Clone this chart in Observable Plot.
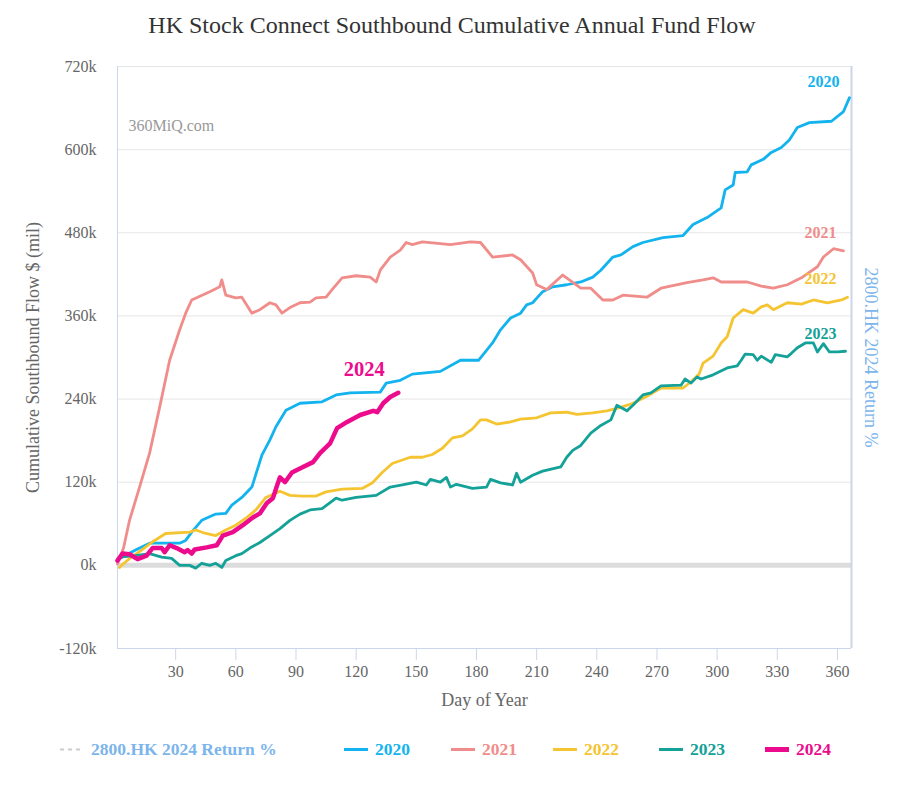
<!DOCTYPE html>
<html>
<head>
<meta charset="utf-8">
<script src="https://cdn.jsdelivr.net/npm/d3@7"></script>
<script src="https://cdn.jsdelivr.net/npm/@observablehq/plot@0.6"></script>
<style>
  body { margin: 0; background: #fff; font-family: "Liberation Serif", serif; }
  #title { height: 50px; line-height: 50px; text-align: center; font-size: 24px; color: #333; width: 904px; }
  #legend { position: relative; height: 75px; width: 904px; }
  .item { position: absolute; top: 34px; transform: translateY(-50%); display: flex; align-items: center; gap: 7px; font-weight: bold; font-size: 17.5px; white-space: nowrap; }
  svg { display: block; }
</style>
</head>
<body>
<div id="title">HK Stock Connect Southbound Cumulative Annual Fund Flow</div>
<div id="chart"></div>
<div id="legend"></div>
<script>
// ---- data (day of year, cumulative flow in k) ----
const years = ["2020", "2021", "2022", "2023", "2024"];
const colors = ["#12b3ee", "#f08d8a", "#f5c431", "#14a198", "#ec0b8c"];
const xTicks = [30, 60, 90, 120, 150, 180, 210, 240, 270, 300, 330, 360];
const yTicks = [-120, 0, 120, 240, 360, 480, 600, 720];
const returnLabel = "2800.HK 2024 Return %";

const flow2020 = [[1,4],[2,10],[10,22],[17,32],[32,32],[35,36],[38,48],[43,65],[50,74],[55,75],[58,87],[63,98],[68,113],[73,159],[77,181],[80,200],[85,224],[92,234],[103,236],[110,246],[117,249],[132,250],[135,263],[142,267],[148,276],[162,280],[172,296],[181,296],[188,321],[192,340],[197,357],[202,364],[205,376],[208,379],[213,395],[218,402],[225,405],[232,409],[238,416],[242,426],[248,445],[252,448],[258,460],[263,466],[273,473],[283,476],[288,492],[295,502],[302,516],[304,542],[308,549],[309,567],[315,568],[317,578],[323,586],[327,596],[332,603],[336,614],[340,632],[346,639],[357,641],[363,655],[366,675]];

const flow2021 = [[1,2],[4,25],[7,65],[12,113],[17,162],[22,228],[27,296],[32,340],[35,364],[38,383],[47,395],[52,402],[53,412],[55,390],[60,386],[63,387],[68,364],[72,369],[77,379],[80,376],[83,364],[87,372],[92,379],[97,380],[100,386],[105,387],[108,398],[113,415],[120,418],[127,416],[130,409],[132,426],[137,445],[142,455],[145,466],[148,463],[153,467],[167,463],[177,467],[182,466],[188,445],[198,448],[202,441],[208,422],[210,405],[215,398],[223,419],[232,400],[237,400],[243,383],[248,383],[253,390],[265,387],[272,400],[285,408],[293,412],[298,415],[302,409],[315,409],[322,403],[328,400],[335,405],[342,415],[350,431],[353,445],[358,457],[363,454]];

const flow2022 = [[2,-3],[3,0],[8,12],[13,22],[18,33],[25,46],[37,48],[40,51],[45,46],[50,43],[55,51],[60,58],[65,68],[70,80],[75,98],[82,107],[87,101],[93,100],[100,100],[105,106],[113,110],[123,111],[128,119],[133,134],[138,147],[147,156],[153,156],[158,160],[163,169],[168,184],[173,187],[178,197],[182,210],[185,210],[190,204],[197,207],[202,211],[210,213],[217,220],[225,221],[230,218],[238,220],[245,223],[252,228],[258,234],[265,244],[272,256],[283,256],[287,265],[291,276],[293,292],[298,302],[302,321],[305,330],[308,357],[313,369],[318,364],[322,373],[325,376],[328,369],[335,379],[342,377],[348,383],[355,379],[362,383],[365,387]];

const flow2023 = [[1,8],[2,12],[10,14],[17,17],[23,12],[28,10],[32,0],[37,0],[40,-4],[43,3],[47,0],[50,3],[53,-3],[55,7],[60,14],[63,17],[67,25],[72,33],[77,43],[82,53],[87,65],[92,74],[97,80],[103,82],[110,97],[113,94],[120,98],[130,101],[137,113],[143,116],[150,120],[155,116],[157,124],[162,120],[165,127],[167,113],[170,117],[178,111],[185,113],[187,124],[192,119],[198,116],[200,133],[202,120],[208,130],[213,136],[222,142],[225,156],[228,166],[232,173],[237,191],[242,202],[247,210],[250,231],[255,223],[258,231],[263,246],[267,249],[272,259],[282,260],[284,269],[287,263],[290,272],[292,269],[298,275],[305,285],[310,288],[312,296],[314,305],[318,304],[320,296],[322,302],[327,293],[329,304],[335,301],[337,306],[340,314],[344,321],[348,321],[350,308],[353,320],[356,308],[360,308],[364,309]];

const flow2024 = [[1,7],[3.5,17],[7,16],[11,9],[15.5,14],[18.5,25],[23,25],[24.5,19],[27,29],[30.5,25],[34.5,19],[36,22],[38,17],[39.5,23],[45.5,26],[50.5,29],[53.5,43],[58.5,48],[63.5,58],[68.5,69],[72,75],[75.5,90],[78.5,97],[81,119],[82,127],[84.5,120],[88,134],[93.5,142],[98.5,149],[102,162],[107,176],[110.5,198],[115.5,207],[122,217],[128.5,223],[130.5,221],[133.5,234],[137,243],[141,249]];

const flows = [flow2020, flow2021, flow2022, flow2023, flow2024];
const rows = years.flatMap((yr, i) => flows[i].map(([day, value]) => ({year: yr, day, value})));
const lastPts = years.map((yr, i) => { const p = flows[i][flows[i].length - 1]; return {year: yr, day: p[0], value: p[1]}; });

// label offsets (px) relative to each series end
const labelOffsets = {"2020": [-26, -16], "2021": [-23, -18], "2022": [-27, -18], "2023": [-25, -17], "2024": [-34, -23]};

const lineMarks = years.map(yr => Plot.line(rows.filter(r => r.year === yr), {
  x: "day", y: "value", stroke: "year", strokeWidth: yr === "2024" ? 4.5 : 2.8
}));
const labelMarks = years.map(yr => Plot.text(lastPts.filter(p => p.year === yr), {
  x: "day", y: "value", text: "year", fill: "year",
  dx: labelOffsets[yr][0], dy: labelOffsets[yr][1],
  fontWeight: "bold", fontSize: yr === "2024" ? 20.5 : 16
}));

const chart = Plot.plot({
  width: 904, height: 665,
  marginLeft: 117, marginRight: 53, marginTop: 16, marginBottom: 67,
  x: {domain: [1, 367]},
  y: {domain: [-120, 720]},
  color: {domain: years, range: colors},
  style: {fontFamily: "'Liberation Serif', serif", fontSize: "16px", color: "#666", background: "#fff", overflow: "visible"},
  marks: [
    Plot.gridY(yTicks, {stroke: "#e6e6e6", strokeOpacity: 1}),
    Plot.ruleY([0], {stroke: "#dcdcdc", strokeWidth: 5}),
    Plot.ruleX([1], {stroke: "#ccd6eb"}),
    Plot.ruleX([367], {stroke: "#ccd6eb", strokeWidth: 2}),
    Plot.ruleY([-120], {stroke: "#ccd6eb"}),
    Plot.axisY(yTicks, {tickSize: 0, tickPadding: 21, tickFormat: d => d + "k", label: null, fontSize: 16, fill: "#666"}),
    Plot.axisX(xTicks, {tickSize: 12, tickPadding: 5, stroke: "#ccd6eb", fill: "#666", label: null, fontSize: 16}),
    Plot.text(["Cumulative Southbound Flow $ (mil)"], {text: d => d, frameAnchor: "left", textAnchor: "middle", lineAnchor: "middle", rotate: -90, dx: -84, fill: "#666", fontSize: 18}),
    Plot.text(["Day of Year"], {text: d => d, frameAnchor: "bottom", textAnchor: "middle", lineAnchor: "middle", dy: 52, fill: "#666", fontSize: 18}),
    Plot.text([returnLabel], {text: d => d, frameAnchor: "right", textAnchor: "middle", lineAnchor: "middle", rotate: 90, dx: 19, fill: "#7cb5ec", fontSize: 18}),
    Plot.text(["360MiQ.com"], {text: d => d, frameAnchor: "top-left", textAnchor: "start", lineAnchor: "middle", dx: 11, dy: 59, fill: "#999", fontSize: 16}),
    ...lineMarks,
    ...labelMarks
  ]
});
document.getElementById("chart").appendChild(chart);

// ---- legend ----
const legendItems = [{label: returnLabel, color: "#7cb5ec", line: "#cccccc", dash: "4,4", w: 2, left: 60}]
  .concat(years.map((yr, i) => ({label: yr, color: colors[i], line: colors[i], dash: null, w: yr === "2024" ? 5 : 3, left: [344, 451, 553, 659, 765][i]})));
const legend = d3.select("#legend");
legendItems.forEach(it => {
  const div = legend.append("div").attr("class", "item").style("left", it.left + "px").style("color", it.color);
  const s = div.append("svg").attr("width", 24).attr("height", 8);
  s.append("line").attr("x1", 0).attr("x2", 24).attr("y1", 4).attr("y2", 4)
    .attr("stroke", it.line).attr("stroke-width", it.w).attr("stroke-dasharray", it.dash);
  div.append("span").text(it.label);
});
</script>
</body>
</html>
